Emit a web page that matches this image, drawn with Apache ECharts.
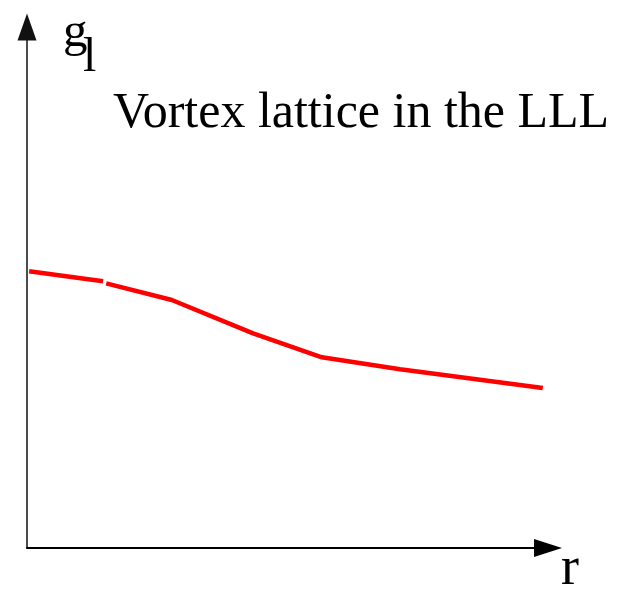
<!DOCTYPE html>
<html>
<head>
<meta charset="utf-8">
<style>
  html, body { margin: 0; padding: 0; background: #fff; }
  #chart { width: 633px; height: 598px; }
</style>
<script src="https://cdn.jsdelivr.net/npm/echarts@6/dist/echarts.min.js"></script>
</head>
<body>
<div id="chart"></div>
<script>
// r positions (0-100 along axis) and g_l values
const segmentA_r = [0.4, 14.6];
const segmentA_g = [53.1, 51.2];
const segmentB_r = [15.2, 27.8, 43.4, 56.6, 71.6, 99.0];
const segmentB_g = [50.8, 47.6, 41.2, 36.6, 34.3, 30.7];

const titleText = "Vortex lattice in the LLL";
const yLabel = "g";
const ySub = "l";
const xLabel = "r";

const serif = "'Liberation Serif', 'DejaVu Serif', serif";
const red = "#ff0000";

const pairs = (xs, ys) => xs.map((x, i) => [x, ys[i]]);

const lineSeries = data => ({
  type: "line",
  data,
  symbol: "none",
  silent: true,
  lineStyle: { color: red, width: 4.5 }
});

const chart = echarts.init(document.getElementById("chart"), null, { renderer: "canvas" });
chart.setOption({
  animation: false,
  grid: { left: 27, right: 85, top: 27, bottom: 50, containLabel: false },
  xAxis: {
    type: "value",
    min: 0,
    max: 100,
    axisLine: {
      show: true,
      symbol: ["none", "triangle"],
      symbolSize: [18, 28],
      lineStyle: { color: "#000", width: 2 }
    },
    axisTick: { show: false },
    axisLabel: { show: false },
    splitLine: { show: false }
  },
  yAxis: {
    type: "value",
    min: 0,
    max: 100,
    axisLine: {
      show: true,
      symbol: ["none", "triangle"],
      symbolSize: [19, 27],
      lineStyle: { color: "#111", width: 1.5 }
    },
    axisTick: { show: false },
    axisLabel: { show: false },
    splitLine: { show: false }
  },
  series: [
    lineSeries(pairs(segmentA_r, segmentA_g)),
    lineSeries(pairs(segmentB_r, segmentB_g))
  ],
  graphic: [
    { type: "text", left: 113, top: 89, style: { text: titleText, font: "50px " + serif, fill: "#000" } },
    { type: "text", left: 63, top: 9, style: { text: yLabel, font: "49px " + serif, fill: "#000" } },
    { type: "text", left: 83, top: 34, style: { text: ySub, font: "48px " + serif, fill: "#000" } },
    { type: "text", left: 561, top: 543, style: { text: xLabel, font: "54px " + serif, fill: "#000" } }
  ]
});
</script>
</body>
</html>
